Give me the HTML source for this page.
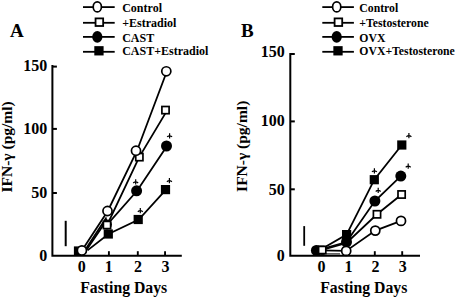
<!DOCTYPE html>
<html><head><meta charset="utf-8"><style>
html,body{margin:0;padding:0;background:#fff;width:456px;height:297px;overflow:hidden}
svg{display:block}
text{font-family:"Liberation Serif",serif;font-weight:bold;fill:#000}
</style></head><body><svg width="456" height="297" viewBox="0 0 456 297" font-family="Liberation Serif" font-weight="bold"><text x="10" y="36.6" font-size="19" text-anchor="start" >A</text><text x="241" y="36.5" font-size="19" text-anchor="start" >B</text><line x1="83" y1="7.1" x2="114.7" y2="7.1" stroke="#000" stroke-width="1.8"/><line x1="83" y1="22.8" x2="114.7" y2="22.8" stroke="#000" stroke-width="1.8"/><line x1="83" y1="36.9" x2="114.7" y2="36.9" stroke="#000" stroke-width="1.8"/><line x1="83" y1="51.8" x2="114.7" y2="51.8" stroke="#000" stroke-width="1.8"/><ellipse cx="97.3" cy="6.8999999999999995" rx="4.1" ry="5.0" fill="#fff" stroke="#000" stroke-width="1.7"/><rect x="95.55" y="18.40" width="7.6" height="7.6" fill="#fff" stroke="#000" stroke-width="1.8"/><ellipse cx="97.3" cy="36.9" rx="5.1" ry="5.8" fill="#000"/><rect x="94.30" y="46.15" width="9.3" height="9.3" fill="#000"/><text x="122.2" y="11.6" font-size="12" text-anchor="start" >Control</text><text x="122.2" y="27.0" font-size="12" text-anchor="start" >+Estradiol</text><text x="122.2" y="41.6" font-size="12" text-anchor="start" >CAST</text><text x="122.2" y="55.4" font-size="12" text-anchor="start" >CAST+Estradiol</text><line x1="322.3" y1="7.1" x2="353.9" y2="7.1" stroke="#000" stroke-width="1.8"/><line x1="322.3" y1="22.8" x2="353.9" y2="22.8" stroke="#000" stroke-width="1.8"/><line x1="322.3" y1="36.9" x2="353.9" y2="36.9" stroke="#000" stroke-width="1.8"/><line x1="322.3" y1="51.8" x2="353.9" y2="51.8" stroke="#000" stroke-width="1.8"/><ellipse cx="336.7" cy="6.8999999999999995" rx="4.1" ry="5.0" fill="#fff" stroke="#000" stroke-width="1.7"/><rect x="334.60" y="18.40" width="7.6" height="7.6" fill="#fff" stroke="#000" stroke-width="1.8"/><ellipse cx="336.7" cy="36.9" rx="5.1" ry="5.8" fill="#000"/><rect x="333.35" y="46.15" width="9.3" height="9.3" fill="#000"/><text x="359.3" y="11.6" font-size="11.75" text-anchor="start" >Control</text><text x="359.3" y="27.0" font-size="11.75" text-anchor="start" >+Testosterone</text><text x="359.3" y="41.6" font-size="11.75" text-anchor="start" >OVX</text><text x="359.3" y="55.4" font-size="11.75" text-anchor="start" >OVX+Testosterone</text><path d="M52.4 65.0V255.8H181.8" fill="none" stroke="#000" stroke-width="2"/><line x1="52.4" y1="66.6" x2="56.9" y2="66.6" stroke="#000" stroke-width="2"/><line x1="52.4" y1="128.9" x2="56.9" y2="128.9" stroke="#000" stroke-width="2"/><line x1="52.4" y1="193.0" x2="56.9" y2="193.0" stroke="#000" stroke-width="2"/><line x1="108.9" y1="255.8" x2="108.9" y2="251.20000000000002" stroke="#000" stroke-width="1.9"/><line x1="137.8" y1="255.8" x2="137.8" y2="251.20000000000002" stroke="#000" stroke-width="1.9"/><line x1="165.05" y1="255.8" x2="165.05" y2="251.20000000000002" stroke="#000" stroke-width="1.9"/><text x="47.2" y="261.0" font-size="16" text-anchor="end" >0</text><text x="47.2" y="198.4" font-size="16" text-anchor="end" >50</text><text x="47.2" y="133.8" font-size="16" text-anchor="end" >100</text><text x="47.2" y="70.9" font-size="16" text-anchor="end" >150</text><text x="81.65" y="272.2" font-size="16" text-anchor="middle" >0</text><text x="108.85" y="272.2" font-size="16" text-anchor="middle" >1</text><text x="138" y="272.2" font-size="16" text-anchor="middle" >2</text><text x="165.6" y="272.2" font-size="16" text-anchor="middle" >3</text><text x="123.7" y="292.5" font-size="15.75" text-anchor="middle" >Fasting Days</text><text transform="translate(11.8,146.9) rotate(-90)" font-size="15.5" text-anchor="middle">IFN-γ (pg/ml)</text><path d="M290.3 52.9V255.8H420" fill="none" stroke="#000" stroke-width="2"/><line x1="290.3" y1="54.0" x2="294.8" y2="54.0" stroke="#000" stroke-width="2"/><line x1="290.3" y1="121.4" x2="294.8" y2="121.4" stroke="#000" stroke-width="2"/><line x1="290.3" y1="189.3" x2="294.8" y2="189.3" stroke="#000" stroke-width="2"/><line x1="347.6" y1="255.8" x2="347.6" y2="251.20000000000002" stroke="#000" stroke-width="1.9"/><line x1="374.8" y1="255.8" x2="374.8" y2="251.20000000000002" stroke="#000" stroke-width="1.9"/><line x1="402.2" y1="255.8" x2="402.2" y2="251.20000000000002" stroke="#000" stroke-width="1.9"/><text x="284.8" y="261.0" font-size="16" text-anchor="end" >0</text><text x="284.8" y="195.20000000000002" font-size="16" text-anchor="end" >50</text><text x="284.8" y="126.4" font-size="16" text-anchor="end" >100</text><text x="284.8" y="57.4" font-size="16" text-anchor="end" >150</text><text x="321.5" y="272.2" font-size="16" text-anchor="middle" >0</text><text x="348.6" y="272.2" font-size="16" text-anchor="middle" >1</text><text x="375.4" y="272.2" font-size="16" text-anchor="middle" >2</text><text x="402.7" y="272.2" font-size="16" text-anchor="middle" >3</text><text x="363.8" y="292.5" font-size="15.75" text-anchor="middle" >Fasting Days</text><text transform="translate(246.5,146.3) rotate(-90)" font-size="15.5" text-anchor="middle">IFN-γ (pg/ml)</text><line x1="65.7" y1="220.8" x2="65.7" y2="246.2" stroke="#000" stroke-width="2"/><line x1="304.2" y1="226.1" x2="304.2" y2="245.8" stroke="#000" stroke-width="1.8"/><polyline points="87.5,250.4 108.5,234 138.8,219.5 166,189.6" fill="none" stroke="#000" stroke-width="1.8"/><polyline points="86.6,249.8 106.3,220.8 107.2,224.5 137.1,190.8 167,146" fill="none" stroke="#000" stroke-width="1.8"/><polyline points="85.8,249 105.8,218.5 107.2,225 139.2,157.1 167.3,110.1" fill="none" stroke="#000" stroke-width="1.8"/><polyline points="81.9,250.5 107.8,211 137,150.7 166.9,71.3" fill="none" stroke="#000" stroke-width="1.8"/><rect x="73.90" y="246.40" width="9.2" height="9.2" fill="#000"/><rect x="103.70" y="229.40" width="9.2" height="9.2" fill="#000"/><rect x="133.60" y="214.90" width="9.2" height="9.2" fill="#000"/><rect x="160.90" y="185.00" width="9.2" height="9.2" fill="#000"/><circle cx="107" cy="224.5" r="4.9" fill="#000"/><circle cx="136.6" cy="190.8" r="5.5" fill="#000"/><circle cx="166.5" cy="146" r="5.5" fill="#000"/><rect x="103.40" y="221.40" width="7.2" height="7.2" fill="#fff" stroke="#000" stroke-width="1.7"/><rect x="135.75" y="153.50" width="7.2" height="7.2" fill="#fff" stroke="#000" stroke-width="1.7"/><rect x="161.90" y="106.50" width="7.2" height="7.2" fill="#fff" stroke="#000" stroke-width="1.7"/><circle cx="81.9" cy="250.5" r="4.55" fill="#fff" stroke="#000" stroke-width="1.7"/><circle cx="107.5" cy="211" r="4.55" fill="#fff" stroke="#000" stroke-width="1.7"/><circle cx="136" cy="150.7" r="4.55" fill="#fff" stroke="#000" stroke-width="1.7"/><circle cx="166.3" cy="71.3" r="4.55" fill="#fff" stroke="#000" stroke-width="1.7"/><path d="M135.7 179.3V184.5M133.2 183.0Q135.7 180.8 138.2 183.0" stroke="#000" stroke-width="1.2" fill="none"/><path d="M140.3 208.0V213.2M137.8 211.7Q140.3 209.5 142.8 211.7" stroke="#000" stroke-width="1.2" fill="none"/><path d="M169.6 133.2V138.4M167.1 136.9Q169.6 134.7 172.1 136.9" stroke="#000" stroke-width="1.2" fill="none"/><path d="M169.4 178.0V183.2M166.9 181.7Q169.4 179.5 171.9 181.7" stroke="#000" stroke-width="1.2" fill="none"/><polyline points="319.5,250.3 346.6,234.6 374.3,179.7 401.8,145" fill="none" stroke="#000" stroke-width="1.8"/><polyline points="316.3,250.5 346.5,242 374.9,201 400.8,176.1" fill="none" stroke="#000" stroke-width="1.8"/><polyline points="322.2,250 346.5,243 377,214.3 401.6,194.5" fill="none" stroke="#000" stroke-width="1.8"/><polyline points="322,250.3 346.2,250.9 375.3,230.6 401,220.9" fill="none" stroke="#000" stroke-width="1.8"/><rect x="315.40" y="245.60" width="9.2" height="9.2" fill="#000"/><rect x="342.00" y="230.00" width="9.2" height="9.2" fill="#000"/><rect x="369.70" y="175.10" width="9.2" height="9.2" fill="#000"/><rect x="397.20" y="140.40" width="9.2" height="9.2" fill="#000"/><circle cx="316.3" cy="250.4" r="5.4" fill="#000"/><circle cx="346.5" cy="242" r="5.5" fill="#000"/><circle cx="374.9" cy="201" r="5.5" fill="#000"/><circle cx="400.8" cy="176.1" r="5.5" fill="#000"/><line x1="321" y1="253.9" x2="340" y2="253.9" stroke="#000" stroke-width="1"/><rect x="318.60" y="246.40" width="7.2" height="7.2" fill="#fff" stroke="#000" stroke-width="1.7"/><rect x="373.40" y="210.70" width="7.2" height="7.2" fill="#fff" stroke="#000" stroke-width="1.7"/><rect x="398.00" y="190.90" width="7.2" height="7.2" fill="#fff" stroke="#000" stroke-width="1.7"/><circle cx="346.2" cy="250.9" r="4.55" fill="#fff" stroke="#000" stroke-width="1.7"/><circle cx="375.3" cy="230.6" r="4.55" fill="#fff" stroke="#000" stroke-width="1.7"/><circle cx="401" cy="220.9" r="4.55" fill="#fff" stroke="#000" stroke-width="1.7"/><path d="M374.4 168.2V173.4M371.9 171.9Q374.4 169.7 376.9 171.9" stroke="#000" stroke-width="1.2" fill="none"/><path d="M378.2 187.8V193.0M375.7 191.5Q378.2 189.3 380.7 191.5" stroke="#000" stroke-width="1.2" fill="none"/><path d="M408.9 133.0V138.2M406.4 136.7Q408.9 134.5 411.4 136.7" stroke="#000" stroke-width="1.2" fill="none"/><path d="M408.2 163.6V168.8M405.7 167.3Q408.2 165.1 410.7 167.3" stroke="#000" stroke-width="1.2" fill="none"/></svg></body></html>
